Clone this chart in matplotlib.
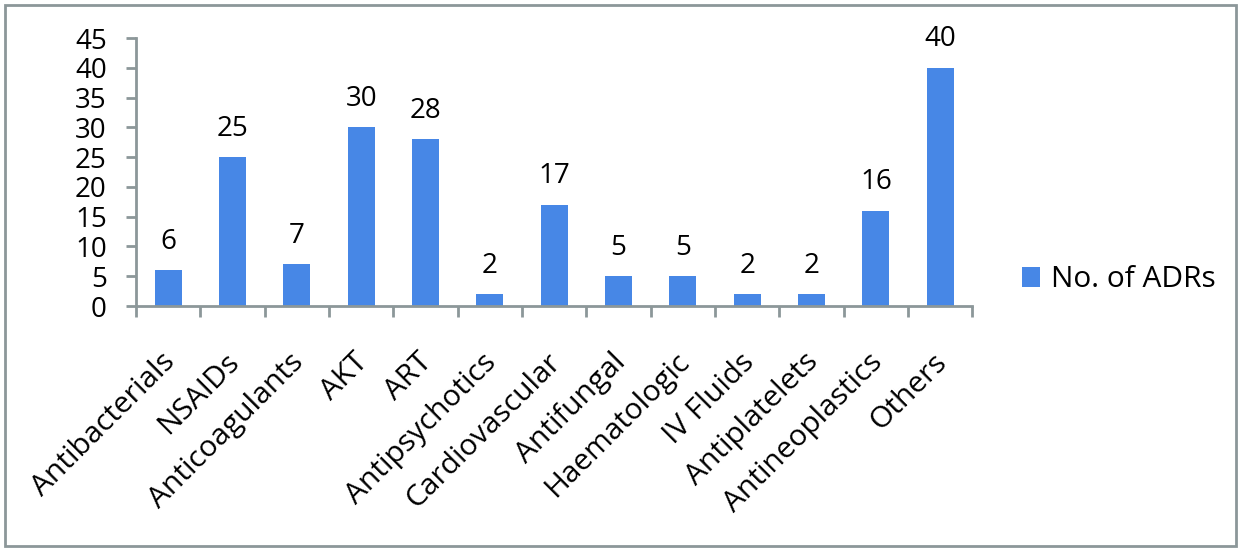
import matplotlib.pyplot as plt
from matplotlib.patches import Rectangle
import numpy as np

categories = ['Antibacterials', 'NSAIDs', 'Anticoagulants', 'AKT', 'ART', 'Antipsychotics',
              'Cardiovascular', 'Antifungal', 'Haematologic', 'IV Fluids', 'Antiplatelets',
              'Antineoplastics', 'Others']
adrs = [6, 25, 7, 30, 28, 2, 17, 5, 5, 2, 2, 16, 40]

plt.rcParams['font.family'] = ['Open Sans', 'DejaVu Sans']
bar_color = '#4787e6'
axis_color = '#8c9799'
fs = 20

fig = plt.figure(figsize=(12.42, 5.5), dpi=100)
ax = fig.add_axes([0.1095, 0.4436, 0.6735, 0.4873])

x = np.arange(len(categories))
bars = ax.bar(x, adrs, width=0.42, color=bar_color, label='No. of ADRs')
for xi, v in zip(x, adrs):
    ax.text(xi, v + 2.4, str(v), ha='center', va='bottom', fontsize=fs)

ax.set_xlim(-0.5, len(categories) - 0.5)
ax.set_ylim(0, 45)
ax.set_yticks(range(0, 46, 5))
ax.tick_params(axis='y', labelsize=fs, length=7, width=2, color=axis_color, pad=14)

# category boundary ticks on the x axis
ax.set_xticks(np.arange(-0.5, len(categories), 1.0))
ax.set_xticklabels([])
ax.tick_params(axis='x', length=8, width=2, color=axis_color)
ax.set_xticks(x - 0.12, minor=True)
ax.set_xticklabels(categories, minor=True, rotation=45, ha='right', va='top',
                   rotation_mode='anchor', fontsize=21.5)
ax.tick_params(axis='x', which='minor', length=0, pad=30)

for s in ['top', 'right']:
    ax.spines[s].set_visible(False)
for s in ['left', 'bottom']:
    ax.spines[s].set_color(axis_color)
    ax.spines[s].set_linewidth(2)

leg = fig.legend(handles=[bars], labels=['No. of ADRs'], loc='center left',
                 bbox_to_anchor=(0.801, 0.491), frameon=False, fontsize=21.5,
                 handlelength=0.62, handleheight=0.62, handletextpad=0.36)

fig.patches.append(Rectangle((0.004, 0.008), 0.991, 0.983, transform=fig.transFigure,
                             fill=False, edgecolor='#8c9799', linewidth=2))

fig.savefig('out.png', dpi=100)
